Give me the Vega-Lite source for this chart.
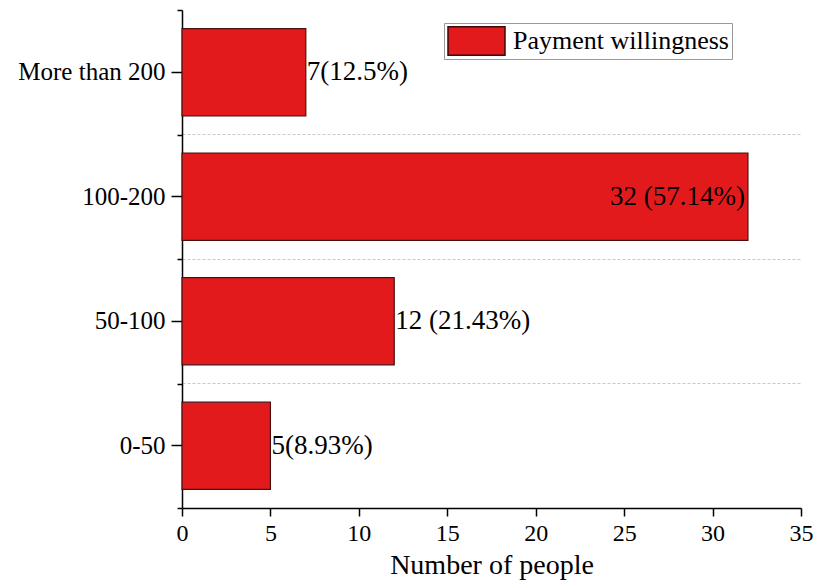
{
  "$schema": "https://vega.github.io/schema/vega-lite/v6.json",
  "width": 619,
  "height": 498,
  "padding": {"left": 17, "top": 9, "right": 5, "bottom": 5},
  "background": "white",
  "config": {
    "font": "serif",
    "view": {"stroke": null},
    "axis": {"labelFont": "serif", "titleFont": "serif", "labelColor": "black", "titleColor": "black", "domainColor": "black", "tickColor": "black"},
    "legend": {"labelFont": "serif"},
    "text": {"font": "serif"}
  },
  "data": {
    "values": [
      {"range": "More than 200", "count": 7, "label": "7(12.5%)"},
      {"range": "100-200", "count": 32, "label": "32 (57.14%)"},
      {"range": "50-100", "count": 12, "label": "12 (21.43%)"},
      {"range": "0-50", "count": 5, "label": "5(8.93%)"}
    ]
  },
  "encoding": {
    "x": {
      "field": "count", "type": "quantitative",
      "scale": {"domain": [0, 35], "nice": false, "zero": true},
      "axis": {
        "values": [0, 5, 10, 15, 20, 25, 30, 35],
        "grid": false, "domainWidth": 1.5, "tickWidth": 1.5, "tickSize": 8,
        "labelFontSize": 24, "labelPadding": 5, "labelFlush": false, "labelFont": "serif",
        "title": "Number of people", "titleFontSize": 28, "titleFontWeight": "normal", "titlePadding": 6, "titleFont": "serif"
      }
    },
    "y": {
      "field": "range", "type": "nominal",
      "sort": ["More than 200", "100-200", "50-100", "0-50"],
      "scale": {"paddingInner": 0, "paddingOuter": 0},
      "axis": null
    }
  },
  "layer": [
    {
      "mark": {"type": "bar", "opacity": 0, "height": {"band": 0.7}},
      "encoding": {
        "y": {
          "field": "range", "type": "nominal",
          "sort": ["More than 200", "100-200", "50-100", "0-50"],
          "axis": {
            "orient": "left", "title": null, "labels": false, "domain": false, "ticks": false,
            "values": ["100-200", "50-100", "0-50"], "bandPosition": 0,
            "grid": true, "gridDash": [3, 2], "gridColor": "#c8c8c8", "gridWidth": 1
          }
        }
      }
    },
    {
      "mark": {"type": "bar", "opacity": 0, "height": {"band": 0.7}},
      "encoding": {
        "y": {
          "field": "range", "type": "nominal",
          "sort": ["More than 200", "100-200", "50-100", "0-50"],
          "axis": {
            "orient": "left", "title": null, "labels": false, "domain": false,
            "tickBand": "extent", "tickSize": 5, "tickWidth": 1.5, "grid": false
          }
        }
      }
    },
    {
      "mark": {"type": "bar", "height": {"band": 0.7}, "stroke": "#4a1010", "strokeWidth": 1.2},
      "encoding": {
        "y": {
          "field": "range", "type": "nominal",
          "sort": ["More than 200", "100-200", "50-100", "0-50"],
          "axis": {
            "orient": "left", "title": null, "grid": false,
            "domainWidth": 1.5, "tickWidth": 1.5, "tickSize": 11,
            "labelFontSize": 25, "labelPadding": 6, "labelFont": "serif", "labelLimit": 0
          }
        },
        "color": {
          "datum": "Payment willingness", "type": "nominal",
          "scale": {"range": ["#E31A1C"]},
          "legend": {
            "orient": "none", "legendX": 262, "legendY": 13, "title": null,
            "symbolType": "M-1,-0.5H1V0.5H-1Z", "symbolSize": 3249, "clipHeight": 30,
            "symbolStrokeColor": "#3a0a0a", "symbolStrokeWidth": 1.5, "symbolOpacity": 1,
            "labelFontSize": 26, "labelColor": "black", "labelOffset": 7, "labelLimit": 0, "labelFont": "serif",
            "padding": 3, "strokeColor": "#999999", "fillColor": "white"
          }
        }
      }
    },
    {
      "transform": [{"filter": "datum.count < 30"}],
      "mark": {"type": "text", "align": "left", "baseline": "middle", "dx": 1, "fontSize": 27, "color": "black", "font": "serif"},
      "encoding": {"text": {"field": "label"}}
    },
    {
      "transform": [{"filter": "datum.count >= 30"}],
      "mark": {"type": "text", "align": "right", "baseline": "middle", "dx": -3, "fontSize": 27, "color": "black", "font": "serif"},
      "encoding": {"text": {"field": "label"}}
    }
  ],
  "resolve": {"axis": {"y": "independent"}}
}
